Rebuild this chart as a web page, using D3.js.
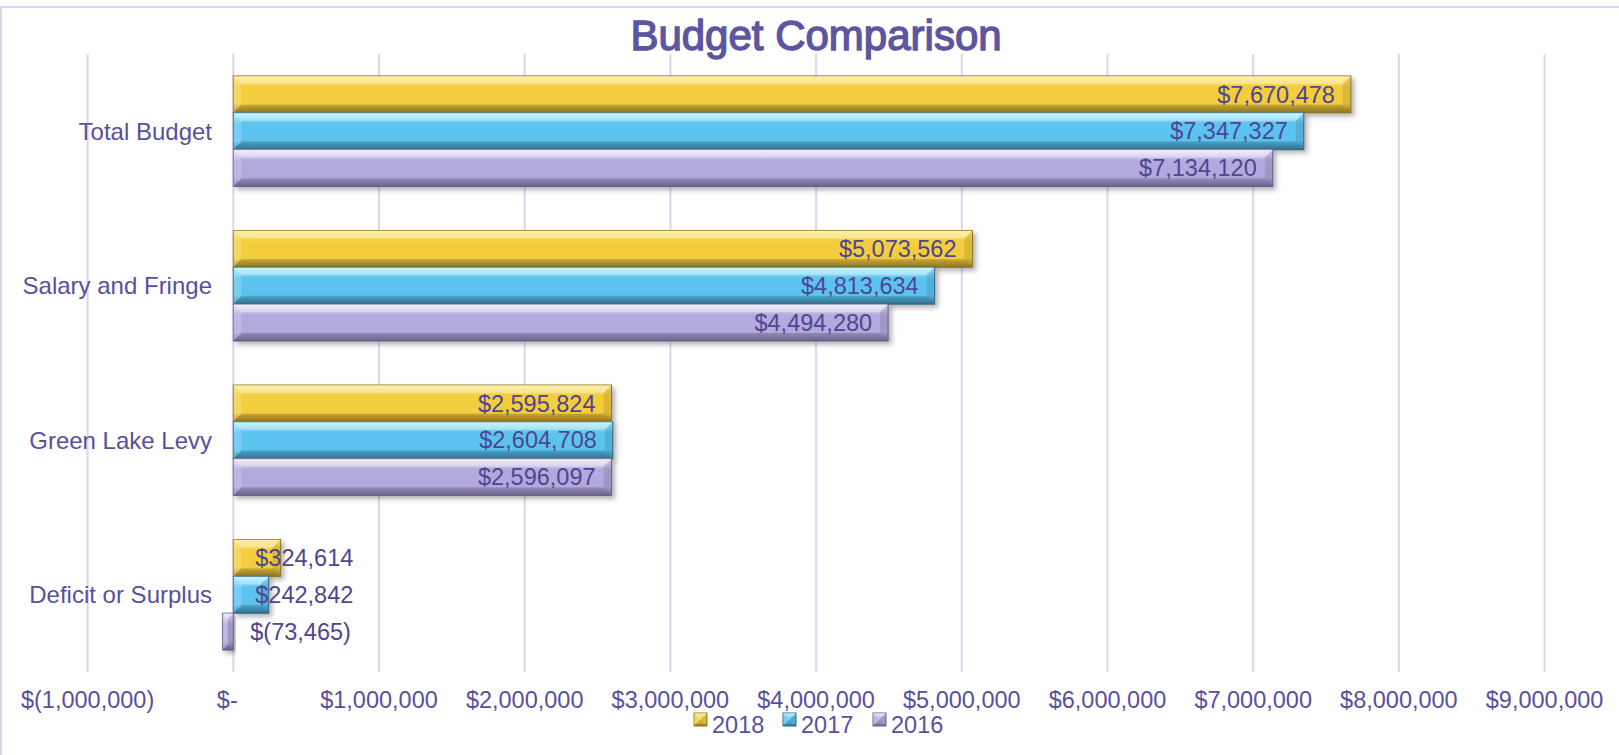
<!DOCTYPE html>
<html>
<head>
<meta charset="utf-8">
<script src="https://cdn.jsdelivr.net/npm/d3@7"></script>
<style>
    body { margin: 0; background: #fff; }
    svg { display: block; font-family: "Liberation Sans", Arial, sans-serif; }
</style>
</head>
<body>
<svg width="1619" height="755"></svg>
<script>
const categories = ["Total Budget", "Salary and Fringe", "Green Lake Levy", "Deficit or Surplus"];
const years = ["2018", "2017", "2016"];
const v2018 = [7670478, 5073562, 2595824, 324614];
const v2017 = [7347327, 4813634, 2604708, 242842];
const v2016 = [7134120, 4494280, 2596097, -73465];
const tickValues = [-1000000, 0, 1000000, 2000000, 3000000, 4000000, 5000000, 6000000, 7000000, 8000000, 9000000];

const seriesValues = { "2018": v2018, "2017": v2017, "2016": v2016 };

// base / light / dark per series
const palette = {
    "2018": { base: "#f3cd3d", light: "#fde97a", dark: "#a8892a", edge: "#9a7e22" },
    "2017": { base: "#5cc3f0", light: "#aef0ff", dark: "#3b87ad", edge: "#2f6f90" },
    "2016": { base: "#b3a9dc", light: "#ece7fb", dark: "#7f76a8", edge: "#6e6696" }
};

const textColor = "#5a4f9f";
const gridColor = "#dad6ee";

const svg = d3.select("svg");
const width = +svg.attr("width");

const margin = { top: 54, bottom: 83, left: 87.6 };

const x = d3.scaleLinear()
    .domain([-1000000, 9000000])
    .range([margin.left, margin.left + 10 * 145.7]);

const y = d3.scaleBand()
    .domain(categories)
    .range([margin.top, 672])
    .paddingInner(0.285)
    .paddingOuter(0.142);

const yInner = d3.scaleBand()
    .domain(years)
    .range([0, y.bandwidth()]);

const defs = svg.append("defs");

defs.append("filter")
    .attr("id", "shadow")
    .attr("x", "-10%").attr("y", "-30%")
    .attr("width", "130%").attr("height", "180%")
    .append("feDropShadow")
    .attr("dx", 3).attr("dy", 3)
    .attr("stdDeviation", 2.5)
    .attr("flood-color", "#555")
    .attr("flood-opacity", 0.45);

years.forEach(yr => {
    const p = palette[yr];
    const g = defs.append("linearGradient")
        .attr("id", "grad" + yr)
        .attr("x1", 0).attr("y1", 0).attr("x2", 0).attr("y2", 1);
    g.append("stop").attr("offset", "0%").attr("stop-color", p.light);
    g.append("stop").attr("offset", "30%").attr("stop-color", p.base);
    g.append("stop").attr("offset", "75%").attr("stop-color", p.base);
    g.append("stop").attr("offset", "100%").attr("stop-color", p.dark);
});

// chart border
svg.append("line")
    .attr("x1", 0).attr("x2", width)
    .attr("y1", 7).attr("y2", 7)
    .attr("stroke", gridColor).attr("stroke-width", 2);
svg.append("line")
    .attr("x1", 1).attr("x2", 1)
    .attr("y1", 7).attr("y2", 755)
    .attr("stroke", gridColor).attr("stroke-width", 2);

// gridlines
svg.append("g")
    .selectAll("line")
    .data(tickValues)
    .join("line")
    .attr("x1", d => x(d)).attr("x2", d => x(d))
    .attr("y1", margin.top).attr("y2", 672)
    .attr("stroke", gridColor)
    .attr("stroke-width", 2);

// title
svg.append("text")
    .attr("x", 816).attr("y", 50)
    .attr("text-anchor", "middle")
    .attr("font-size", 42)
    .attr("fill", "#5e55a1")
    .attr("stroke", "#5e55a1")
    .attr("stroke-width", 1.4)
    .text("Budget Comparison");

// x tick labels
const fmtNum = d3.format(",");
const tickFmt = d => d === 0 ? "$-" : d < 0 ? "$(" + fmtNum(-d) + ")" : "$" + fmtNum(d);
const valueFmt = d => d < 0 ? "$(" + fmtNum(-d) + ")" : "$" + fmtNum(d);

svg.append("g")
    .selectAll("text")
    .data(tickValues)
    .join("text")
    .attr("x", d => x(d) + (d === 0 ? -6 : 0))
    .attr("y", 708)
    .attr("text-anchor", "middle")
    .attr("font-size", 23.5)
    .attr("fill", textColor)
    .text(tickFmt);

// category labels
svg.append("g")
    .selectAll("text")
    .data(categories)
    .join("text")
    .attr("x", 212)
    .attr("y", d => y(d) + y.bandwidth() / 2)
    .attr("dy", "0.35em")
    .attr("text-anchor", "end")
    .attr("font-size", 24)
    .attr("fill", textColor)
    .text(d => d);

// beveled bar
function drawBevel(sel, x0, y0, w, h, yr) {
    const p = palette[yr];
    const b = Math.min(8, w / 2, h / 2);
    sel.append("rect")
        .attr("x", x0).attr("y", y0)
        .attr("width", w).attr("height", h)
        .attr("fill", `url(#grad${yr})`)
        .attr("stroke", p.edge)
        .attr("stroke-width", 1)
        .attr("filter", "url(#shadow)");
    const x1 = x0 + w, y1 = y0 + h;
    const faces = [
        { pts: [[x0, y0], [x1, y0], [x1 - b, y0 + b], [x0 + b, y0 + b]], fill: "#fff", op: 0.35 },
        { pts: [[x0, y0], [x0 + b, y0 + b], [x0 + b, y1 - b], [x0, y1]], fill: "#fff", op: 0.18 },
        { pts: [[x0, y1], [x0 + b, y1 - b], [x1 - b, y1 - b], [x1, y1]], fill: "#000", op: 0.15 },
        { pts: [[x1, y0], [x1, y1], [x1 - b, y1 - b], [x1 - b, y0 + b]], fill: "#000", op: 0.1 }
    ];
    sel.selectAll(null)
        .data(faces)
        .join("polygon")
        .attr("points", f => f.pts.map(q => q.join(",")).join(" "))
        .attr("fill", f => f.fill)
        .attr("opacity", f => f.op);
}

const barsG = svg.append("g");
const labelsG = svg.append("g");

categories.forEach((cat, i) => {
    years.forEach(yr => {
        const v = seriesValues[yr][i];
        const x0 = Math.min(x(0), x(v));
        const w = Math.abs(x(v) - x(0));
        const y0 = y(cat) + yInner(yr);
        const h = yInner.bandwidth();
        drawBevel(barsG.append("g"), x0, y0, w, h, yr);

        const t = labelsG.append("text")
            .attr("y", y0 + h / 2)
            .attr("dy", "0.35em")
            .attr("font-size", 23.5)
            .attr("fill", "#4f4590")
            .text(valueFmt(v));
        const tw = t.node().getComputedTextLength();
        if (v > 0 && tw + 24 < w) {
            t.attr("x", x(v) - 16).attr("text-anchor", "end");
        } else {
            t.attr("x", x(0) + (v < 0 ? 17 : 22)).attr("text-anchor", "start");
        }
    });
});

// legend
const legendX = [694, 783, 873];
const legend = svg.append("g");
years.forEach((yr, i) => {
    const g = legend.append("g");
    drawBevel(g, legendX[i], 713, 13, 13, yr);
    g.select("rect").attr("filter", null);
    legend.append("text")
        .attr("x", legendX[i] + 18)
        .attr("y", 733)
        .attr("font-size", 23.5)
        .attr("fill", textColor)
        .text(yr);
});
</script>
</body>
</html>
